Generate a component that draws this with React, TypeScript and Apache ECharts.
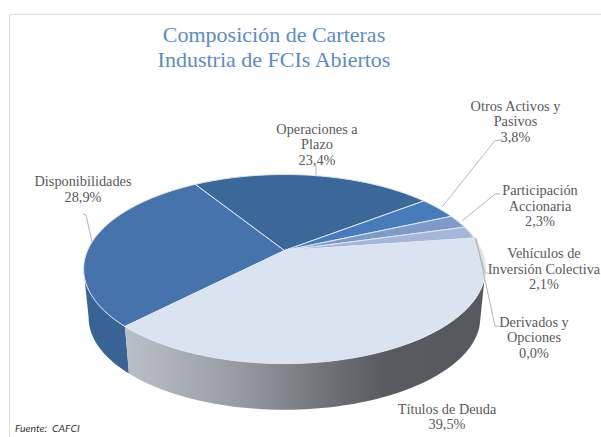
import React, { useEffect, useRef } from "react";
import * as echarts from "echarts";

const categories = [
  "Disponibilidades",
  "Operaciones a\nPlazo",
  "Otros Activos y\nPasivos",
  "Participación\nAccionaria",
  "Vehículos de\nInversión Colectiva",
  "Derivados y\nOpciones",
  "Títulos de Deuda",
];
const shares = [28.9, 23.4, 3.8, 2.3, 2.1, 0.0, 39.5];
const titleLines = ["Composición de Carteras", "Industria de FCIs Abiertos"];
const sourceNote = "Fuente:  CAFCI";

const faceColors = ["#4673ab", "#3c6799", "#477bb9", "#7f9ac6", "#a5b6d8", "#c9d4e8", "#dae3f0"];
const wallColors: any[] = [
  "#3a6395",
  "#2f5380",
  "#3a6aa0",
  "#6a84ab",
  "#8c9cba",
  "#aab4c6",
  {
    type: "linear", x: 0, y: 0, x2: 1, y2: 0,
    colorStops: [
      { offset: 0, color: "#b9c0c8" },
      { offset: 0.3, color: "#989ea6" },
      { offset: 0.58, color: "#6c7076" },
      { offset: 0.72, color: "#585b60" },
      { offset: 1, color: "#55585c" },
    ],
  },
];
const labelCenters = [
  [83, 189], [317, 144], [515.5, 121], [540, 205.5], [544, 268.5], [534, 337], [447, 416.5],
];
const leaderLines = [
  [[83, 214], [86, 215], [92, 242]],
  [[316, 165], [316, 175]],
  [[501, 140], [495, 140.5], [442, 207]],
  [[500, 194], [495, 194], [462, 221]],
  [[488, 273], [485, 273], [475, 238]],
  [[499, 326], [495, 326], [476, 238]],
  [],
];

const PIE = {
  cx: 284.5, cy: 250.5, a: 90.9, b: 197, k: 0.196, start: 224.1, shrink: 0.975, drop: 49,
  wallFrom: 106, wallTo: 258.7,
};

function rim(deg: number, lower: boolean) {
  const t = (deg * Math.PI) / 180;
  const x = Math.sin(t);
  const y = -Math.cos(t);
  const w = 1 - PIE.k * y;
  const px = (PIE.b * x) / w;
  const py = (PIE.a * y) / w;
  return lower
    ? [PIE.cx + px * PIE.shrink, PIE.cy + py * PIE.shrink + PIE.drop]
    : [PIE.cx + px, PIE.cy + py];
}
function arc(from: number, to: number, lower: boolean) {
  const n = Math.max(2, Math.ceil(Math.abs(to - from) / 1.5));
  const pts: number[][] = [];
  for (let i = 0; i <= n; i++) pts.push(rim(from + ((to - from) * i) / n, lower));
  return pts;
}
const total = shares.reduce((s, v) => s + v, 0);
function sliceRange(i: number) {
  let acc = 0;
  for (let j = 0; j < i; j++) acc += shares[j];
  const a0 = PIE.start + (acc / total) * 360;
  return [a0, a0 + (shares[i] / total) * 360];
}
// The part of a slice's angular range that faces the viewer, or null.
function visibleWall(i: number) {
  const [a0, a1] = sliceRange(i);
  for (const turn of [0, 360]) {
    const from = Math.max(a0, PIE.wallFrom + turn);
    const to = Math.min(a1, PIE.wallTo + turn);
    if (to > from) return [from, to];
  }
  return null;
}

export default function App() {
  const ref = useRef<HTMLDivElement>(null);
  useEffect(() => {
    const chart = echarts.init(ref.current!, undefined, { renderer: "svg" });
    const rows = categories.map((name, i) => ({ name, value: shares[i] }));
    chart.setOption({
      animation: false,
      backgroundColor: "#ffffff",
      graphic: [
        { type: "line", silent: true, shape: { x1: 9.5, y1: 14.5, x2: 601, y2: 14.5 }, style: { stroke: "#dcdcdc", lineWidth: 1 } },
        { type: "line", silent: true, shape: { x1: 9.5, y1: 14.5, x2: 9.5, y2: 437 }, style: { stroke: "#dcdcdc", lineWidth: 1 } },
        {
          type: "text", x: 274, y: 47,
          style: {
            text: titleLines.join("\n"),
            align: "center",
            verticalAlign: "middle",
            fontFamily: "Liberation Serif",
            fontSize: 22,
            lineHeight: 24.5,
            fill: "#5b8bc6",
          },
        },
        {
          type: "text", x: 15, y: 422.5,
          style: { text: sourceNote, fontFamily: "Lato", fontStyle: "italic", fontSize: 10.4, fill: "#333333" },
        },
      ],
      series: [
        {
          type: "custom",
          name: "walls",
          coordinateSystem: "none",
          z: 1,
          silent: true,
          data: rows,
          renderItem: (p: any) => {
            const i = p.dataIndex;
            const range = visibleWall(i);
            if (!range) return null;
            const top = arc(range[0], range[1], false);
            const low = arc(range[0], range[1], true).reverse();
            return {
              type: "polygon",
              shape: { points: [...top, ...low] },
              style: { fill: wallColors[i], stroke: "none" },
            };
          },
        },
        {
          type: "custom",
          name: "faces",
          coordinateSystem: "none",
          z: 2,
          silent: true,
          data: rows,
          renderItem: (p: any) => {
            const i = p.dataIndex;
            const [a0, a1] = sliceRange(i);
            if (a1 - a0 <= 0) return null;
            return {
              type: "polygon",
              shape: { points: [[PIE.cx, PIE.cy], ...arc(a0, a1, false)] },
              style: { fill: faceColors[i], stroke: "#dfe7f3", lineWidth: 1, lineJoin: "round" },
            };
          },
        },
        {
          type: "custom",
          name: "labels",
          coordinateSystem: "none",
          z: 3,
          silent: true,
          data: rows,
          renderItem: (p: any) => {
            const i = p.dataIndex;
            const pct = shares[i].toFixed(1).replace(".", ",") + "%";
            const children: any[] = [
              {
                type: "text",
                style: {
                  x: labelCenters[i][0],
                  y: labelCenters[i][1],
                  text: categories[i] + "\n" + pct,
                  align: "center",
                  verticalAlign: "middle",
                  lineHeight: 15.5,
                  fontFamily: "Liberation Serif",
                  fontSize: 14.3,
                  fill: "#595959",
                },
              },
            ];
            if (leaderLines[i].length) {
              children.push({
                type: "polyline",
                shape: { points: leaderLines[i] },
                style: { fill: "none", stroke: "#b5b5b5", lineWidth: 1 },
              });
            }
            return { type: "group", children };
          },
        },
      ],
    });
    return () => chart.dispose();
  }, []);
  return (
    <div
      ref={ref}
      style={{ position: "fixed", left: 0, top: 0, width: 601, height: 437 }}
    />
  );
}
